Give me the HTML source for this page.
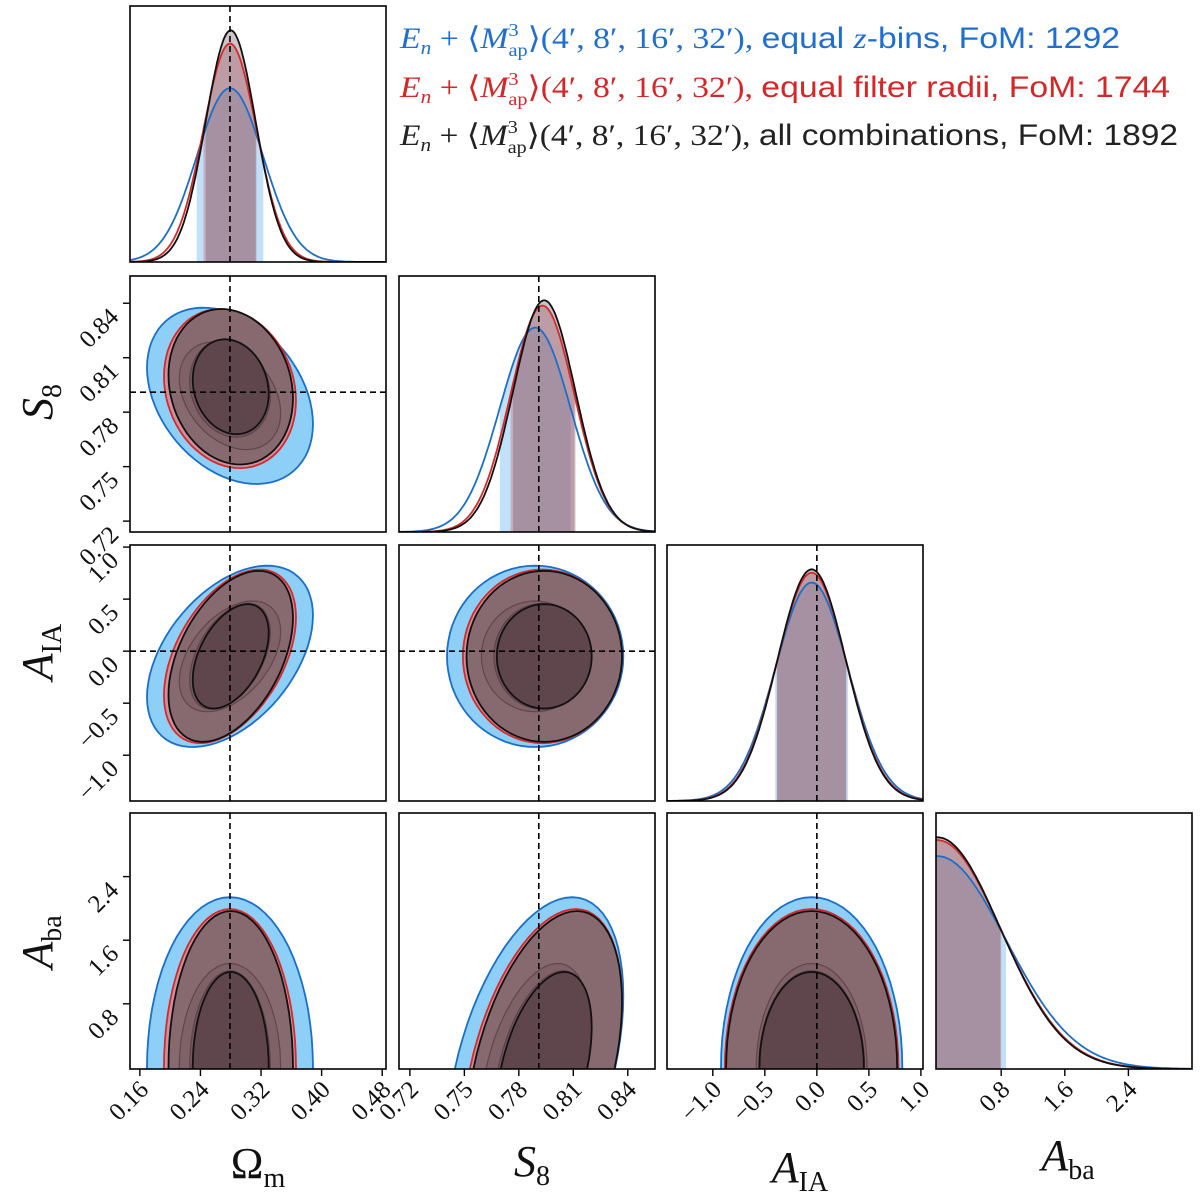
<!DOCTYPE html>
<html><head><meta charset="utf-8"><style>
html,body{margin:0;padding:0;background:#fff;}
svg{display:block;font-family:"Liberation Serif",serif;}
.tk{font-size:25px;fill:#111;}
.ax{font-size:44px;fill:#111;font-style:italic;}
</style></head><body>
<svg id="chart" width="1200" height="1200" viewBox="0 0 1200 1200">
<g id="legend">
<text x="400" y="48" font-size="30" fill="#1f6fd0" textLength="720" lengthAdjust="spacingAndGlyphs"><tspan font-style="italic">E</tspan><tspan font-size="19" dy="6" font-style="italic">n</tspan><tspan dy="-6"> + ⟨</tspan><tspan font-style="italic">M</tspan><tspan font-size="18" dy="-12">3</tspan><tspan font-size="18" dx="-9" dy="20">ap</tspan><tspan dy="-8">⟩(4′, 8′, 16′, 32′), </tspan><tspan font-family="Liberation Sans">equal </tspan><tspan font-style="italic">z</tspan><tspan font-family="Liberation Sans">-bins, FoM: 1292</tspan></text>
<text x="400" y="97" font-size="30" fill="#d62728" textLength="770" lengthAdjust="spacingAndGlyphs"><tspan font-style="italic">E</tspan><tspan font-size="19" dy="6" font-style="italic">n</tspan><tspan dy="-6"> + ⟨</tspan><tspan font-style="italic">M</tspan><tspan font-size="18" dy="-12">3</tspan><tspan font-size="18" dx="-9" dy="20">ap</tspan><tspan dy="-8">⟩(4′, 8′, 16′, 32′), </tspan><tspan font-family="Liberation Sans">equal filter radii, FoM: 1744</tspan></text>
<text x="400" y="145" font-size="30" fill="#222" textLength="778" lengthAdjust="spacingAndGlyphs"><tspan font-style="italic">E</tspan><tspan font-size="19" dy="6" font-style="italic">n</tspan><tspan dy="-6"> + ⟨</tspan><tspan font-style="italic">M</tspan><tspan font-size="18" dy="-12">3</tspan><tspan font-size="18" dx="-9" dy="20">ap</tspan><tspan dy="-8">⟩(4′, 8′, 16′, 32′), </tspan><tspan font-family="Liberation Sans">all combinations, FoM: 1892</tspan></text>
</g>
</svg>
<script>
const params = ["Omega_m","S8","A_IA","A_ba"];
const rangesLo = [0.147, 0.714, -1.44, -0.02];
const rangesHi = [0.485, 0.855, 1.02, 3.2];
const truthVals = [0.279, 0.791, 0.0, null];
const xTicks0 = [0.16, 0.24, 0.32, 0.40, 0.48];
const xTicks1 = [0.72, 0.75, 0.78, 0.81, 0.84];
const xTicks2 = [-1.0, -0.5, 0.0, 0.5, 1.0];
const xTicks3 = [0.8, 1.6, 2.4];
const tickLabels0 = ["0.16","0.24","0.32","0.40","0.48"];
const tickLabels1 = ["0.72","0.75","0.78","0.81","0.84"];
const tickLabels2 = ["\u22121.0","\u22120.5","0.0","0.5","1.0"];
const tickLabels3 = ["0.8","1.6","2.4"];
const seriesNames = ["equal-z-bins","equal-filter-radii","all-combinations"];
const meanBlue = [0.279, 0.789, -0.05, 0.0];
const meanRed = [0.279, 0.793, -0.05, 0.0];
const meanBlack = [0.280, 0.794, -0.05, 0.0];
const sdBlue = [0.044, 0.0195, 0.35, 0.86];
const sdRed = [0.035, 0.0176, 0.335, 0.80];
const sdBlack = [0.033, 0.0172, 0.33, 0.79];
const corrPairs = [[0,1],[0,2],[1,2],[0,3],[1,3],[2,3]];
const corrBlue = [-0.32, 0.45, 0.0, 0.0, 0.42, 0.0];
const corrRed = [-0.15, 0.45, 0.0, 0.0, 0.42, 0.0];
const corrBlack = [-0.15, 0.45, 0.0, 0.0, 0.42, 0.0];

const NS="http://www.w3.org/2000/svg";
const svg=document.getElementById('chart');
const colX=[130,399,667,936], rowY=[6,276,545,813], P=256;
const lineCols=["#1a6fc9","#d42a2a","#111111"];
const outerFill=["#8ecff8","#cf8f9c","#876a70"];
const innerFill=["#7f6268","#735660","#5f464c"];
const bandFill=["rgba(140,200,240,0.55)","rgba(205,120,140,0.45)","rgba(110,85,95,0.35)"];
const means=[meanBlue,meanRed,meanBlack], sds=[sdBlue,sdRed,sdBlack], corrs=[corrBlue,corrRed,corrBlack];
const xTicks=[xTicks0,xTicks1,xTicks2,xTicks3], tLabels=[tickLabels0,tickLabels1,tickLabels2,tickLabels3];

function sx(i,v){return colX[i]+(v-rangesLo[i])/(rangesHi[i]-rangesLo[i])*P;}
function sy(r,v){return rowY[r]+P-(v-rangesLo[r])/(rangesHi[r]-rangesLo[r])*P;}
function mk(tag,attrs,parent){const e=document.createElementNS(NS,tag);for(const k in attrs)e.setAttribute(k,attrs[k]);(parent||svg).appendChild(e);return e;}
function corrOf(s,i,j){for(let k=0;k<corrPairs.length;k++){const p=corrPairs[k];if((p[0]===i&&p[1]===j)||(p[0]===j&&p[1]===i))return corrs[s][k];}return 0;}

const defs=mk('defs',{});
for(let r=0;r<4;r++)for(let c=0;c<=r;c++){
  const cp=mk('clipPath',{id:'clip'+r+c},defs);
  mk('rect',{x:colX[c],y:rowY[r],width:P,height:P},cp);
}

function ellipsePath(s,c,r,k){
  const mx=means[s][c],my=means[s][r],ax=sds[s][c],ay=sds[s][r],rho=corrOf(s,c,r);
  let d='';
  for(let t=0;t<=72;t++){const a=t/72*2*Math.PI;
    const vx=mx+k*ax*Math.cos(a), vy=my+k*ay*(rho*Math.cos(a)+Math.sqrt(1-rho*rho)*Math.sin(a));
    d+=(t?'L':'M')+sx(c,vx).toFixed(1)+','+sy(r,vy).toFixed(1);}
  return d+'Z';
}

for(let r=0;r<4;r++)for(let c=0;c<=r;c++){
  const g=mk('g',{'clip-path':'url(#clip'+r+c+')'});
  
  
  if(r===c){
    let minSd=Math.min(sdBlue[c],sdRed[c],sdBlack[c]);
    for(let s=0;s<3;s++){
      const m=means[s][c],sd=sds[s][c],amp=0.905*P*minSd/sd;
      const base=rowY[r]+P;
      const yf=v=>base-amp*Math.exp(-0.5*Math.pow((v-m)/sd,2));
      const lo=Math.max(m-sd,rangesLo[c]),hi=m+sd;
      let d='M'+sx(c,lo).toFixed(1)+','+base;
      for(let t=0;t<=40;t++){const v=lo+(hi-lo)*t/40;d+='L'+sx(c,v).toFixed(1)+','+yf(v).toFixed(1);}
      d+='L'+sx(c,hi).toFixed(1)+','+base+'Z';
      const band=mk('path',{d:d,fill:bandFill[s]},g);
      
      
    }
    for(let s=0;s<3;s++){
      const m=means[s][c],sd=sds[s][c],amp=0.905*P*minSd/sd,base=rowY[r]+P;
      let d='';
      for(let t=0;t<=200;t++){const v=rangesLo[c]+(rangesHi[c]-rangesLo[c])*t/200;
        const y=base-amp*Math.exp(-0.5*Math.pow((v-m)/sd,2));d+=(t?'L':'M')+sx(c,v).toFixed(1)+','+y.toFixed(1);}
      const ln=mk('path',{d:d,fill:'none',stroke:lineCols[s],'stroke-width':1.8},g);
      
      
    }
  } else {
    for(let s=0;s<3;s++){
      const o=mk('path',{d:ellipsePath(s,c,r,2.49),fill:outerFill[s],stroke:lineCols[s],'stroke-width':1.8},g);
      
      
    }
    for(let s=0;s<3;s++){
      const i=mk('path',{d:ellipsePath(s,c,r,1.52),fill:innerFill[s],stroke:s===2?'#111':'rgba(90,60,66,0.8)','stroke-width':s===2?1.8:1.2},g);
      
      
    }
    if(truthVals[r]!==null){
      const h=mk('line',{x1:colX[c],x2:colX[c]+P,y1:sy(r,truthVals[r]),y2:sy(r,truthVals[r]),stroke:'#000','stroke-width':1.6,'stroke-dasharray':'6,4'},g);
      
      
    }
  }
  if(truthVals[c]!==null){
    const v=mk('line',{x1:sx(c,truthVals[c]),x2:sx(c,truthVals[c]),y1:rowY[r],y2:rowY[r]+P,stroke:'#000','stroke-width':1.6,'stroke-dasharray':'6,4'},g);
    
    
  }
  const fr=mk('rect',{x:colX[c],y:rowY[r],width:P,height:P,fill:'none',stroke:'#000','stroke-width':1.6});
  
  
}

for(let c=0;c<4;c++){
  const yb=rowY[3]+P;
  xTicks[c].forEach((v,k)=>{
    const x=sx(c,v);
    const t=mk('line',{x1:x,x2:x,y1:yb,y2:yb+7,stroke:'#000','stroke-width':1.4});
    
    
    const lb=mk('text',{class:'tk','text-anchor':'end',transform:'translate('+(x+10)+','+(yb+22)+') rotate(-45)'});
    lb.textContent=tLabels[c][k];
    
    
  });
}
for(let r=1;r<4;r++){
  xTicks[r].forEach((v,k)=>{
    const y=sy(r,v);
    if(y<rowY[r]-3||y>rowY[r]+P+3)return;
    const t=mk('line',{x1:colX[0]-7,x2:colX[0],y1:y,y2:y,stroke:'#000','stroke-width':1.4});
    
    
    const lb=mk('text',{class:'tk','text-anchor':'end',transform:'translate('+(colX[0]-10)+','+(y+15)+') rotate(-45)'});
    lb.textContent=tLabels[r][k];
    
    
  });
}
function title(html,x,y,rot,name){
  const t=mk('text',{class:'ax','text-anchor':'middle',transform:'translate('+x+','+y+')'+(rot?' rotate(-90)':'')});
  t.innerHTML=html;
  
  
}
title('<tspan font-style="normal">Ω</tspan><tspan font-style="normal" font-size="28" dy="9">m</tspan>',258,1178,false,'x-axis-title-omega-m');
title('S<tspan font-style="normal" font-size="28" dy="9">8</tspan>',532,1176,false,'x-axis-title-s8');
title('A<tspan font-style="normal" font-size="28" dy="9">IA</tspan>',800,1182,false,'x-axis-title-a-ia');
title('A<tspan font-style="normal" font-size="28" dy="9">ba</tspan>',1068,1170,false,'x-axis-title-a-ba');
title('S<tspan font-style="normal" font-size="28" dy="9">8</tspan>',52,402,true,'y-axis-title-s8');
title('A<tspan font-style="normal" font-size="28" dy="9">IA</tspan>',52,652,true,'y-axis-title-a-ia');
title('A<tspan font-style="normal" font-size="28" dy="9">ba</tspan>',52,942,true,'y-axis-title-a-ba');
</script>
</body></html>
